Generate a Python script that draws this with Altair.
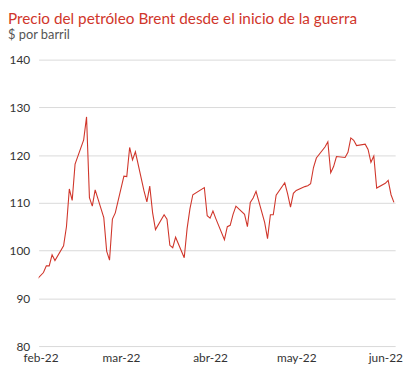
import altair as alt
import pandas as pd

# Brent close on trading days
dates = [
    "2022-02-18", "2022-02-21", "2022-02-22", "2022-02-23", "2022-02-24", "2022-02-25",
    "2022-02-28", "2022-03-01", "2022-03-02", "2022-03-03", "2022-03-04",
    "2022-03-07", "2022-03-08", "2022-03-09", "2022-03-10", "2022-03-11",
    "2022-03-14", "2022-03-15", "2022-03-16", "2022-03-17", "2022-03-18",
    "2022-03-21", "2022-03-22", "2022-03-23", "2022-03-24", "2022-03-25",
    "2022-03-28", "2022-03-29", "2022-03-30", "2022-03-31", "2022-04-01",
    "2022-04-04", "2022-04-05", "2022-04-06", "2022-04-07", "2022-04-08",
    "2022-04-11", "2022-04-12", "2022-04-13", "2022-04-14",
    "2022-04-18", "2022-04-19", "2022-04-20", "2022-04-21", "2022-04-22",
    "2022-04-25", "2022-04-26", "2022-04-27", "2022-04-28", "2022-04-29",
    "2022-05-02", "2022-05-03", "2022-05-04", "2022-05-05", "2022-05-06",
    "2022-05-09", "2022-05-10", "2022-05-11", "2022-05-12", "2022-05-13",
    "2022-05-16", "2022-05-17", "2022-05-18", "2022-05-19", "2022-05-20",
    "2022-05-23", "2022-05-24", "2022-05-25", "2022-05-26", "2022-05-27",
    "2022-05-30", "2022-05-31", "2022-06-01", "2022-06-02", "2022-06-03",
    "2022-06-06", "2022-06-07", "2022-06-08", "2022-06-09", "2022-06-10",
    "2022-06-13", "2022-06-14", "2022-06-15", "2022-06-16", "2022-06-17",
    "2022-06-20", "2022-06-21", "2022-06-22", "2022-06-23",
]
prices = [
    93.5, 95.4, 96.8, 96.8, 99.1, 97.9,
    101.0, 105.0, 112.9, 110.5, 118.1,
    123.2, 128.0, 111.1, 109.3, 112.7,
    106.9, 99.9, 98.0, 106.6, 107.9,
    115.6, 115.5, 121.6, 119.0, 120.7,
    112.5, 110.2, 113.5, 107.9, 104.4,
    107.5, 106.6, 101.1, 100.6, 102.8,
    98.5, 104.6, 108.8, 111.7,
    113.2, 107.3, 106.8, 108.3, 106.7,
    102.3, 105.0, 105.3, 107.6, 109.3,
    107.6, 105.0, 110.1, 111.0, 112.4,
    105.9, 102.5, 107.5, 107.5, 111.6,
    114.2, 111.9, 109.1, 112.0, 112.6,
    113.4, 113.6, 114.0, 117.4, 119.4,
    121.7, 122.8, 116.3, 117.6, 119.7,
    119.5, 120.6, 123.6, 123.1, 122.0,
    122.3, 121.2, 118.5, 119.8, 113.1,
    114.1, 114.7, 111.7, 110.1,
]
y_ticks = [80, 90, 100, 110, 120, 130, 140]
x_tick_days = [(2, 20), (3, 20), (4, 20), (5, 20), (6, 20)]
month_names = ["ene", "feb", "mar", "abr", "may", "jun", "jul", "ago", "sep", "oct", "nov", "dic"]

df = pd.DataFrame({"fecha": dates, "precio": prices})

RED = "#d0362b"
FONT = "Lato"

x_values = [alt.DateTime(year=2022, month=m, date=d, utc=True) for m, d in x_tick_days]
month_arr = "[" + ",".join(f"'{m}'" for m in month_names) + "]"

chart = alt.Chart(df).mark_line(color=RED, strokeWidth=1.1, clip=True).encode(
    x=alt.X(
        "fecha:T",
        scale=alt.Scale(
            type="utc",
            domain=[
                alt.DateTime(year=2022, month=2, date=19, hours=7, minutes=30, utc=True),
                alt.DateTime(year=2022, month=6, date=23, hours=10, minutes=30, utc=True),
            ],
        ),
        axis=alt.Axis(
            values=x_values,
            labelExpr=month_arr + "[utcmonth(datum.value)] + '-22'",
            title=None,
            grid=False,
            domain=False,
            ticks=False,
            labelFlush=False,
            labelPadding=7,
            labelFontSize=12,
            labelColor="#333333",
            labelFont=FONT,
        ),
    ),
    y=alt.Y(
        "precio:Q",
        scale=alt.Scale(domain=[80, 140], nice=False, zero=False),
        axis=alt.Axis(
            values=y_ticks,
            title=None,
            domain=False,
            ticks=False,
            labelPadding=9,
            labelFontSize=12,
            labelColor="#333333",
            labelFont=FONT,
            gridColor="#d9d9d9",
            gridWidth=1,
        ),
    ),
).properties(
    width=361,
    height=290,
    padding={"left": 31, "top": 50, "right": 14, "bottom": 25},
    autosize=alt.AutoSizeParams(type="none"),
    title=alt.TitleParams(
        text="Precio del petróleo Brent desde el inicio de la guerra",
        subtitle="$ por barril",
        anchor="start",
        frame="group",
        dx=-31,
        offset=12,
        font=FONT,
        fontSize=15.5,
        fontWeight="normal",
        color=RED,
        subtitleFont=FONT,
        subtitleFontSize=13,
        subtitleColor="#555555",
        subtitlePadding=2,
    ),
).configure_view(stroke=None)

chart.save("out.html", embed_options={"renderer": "svg", "actions": False})
